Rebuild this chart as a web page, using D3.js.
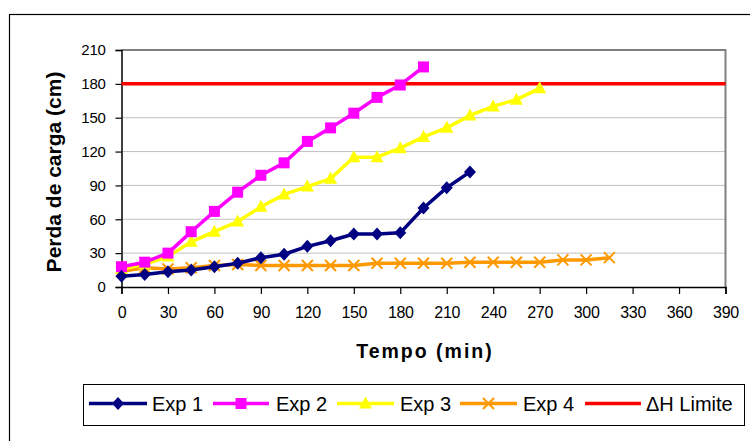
<!DOCTYPE html>
<html><head><meta charset="utf-8">
<script src="https://cdn.jsdelivr.net/npm/d3@7"></script>
<style>body{margin:0;background:#fff;} svg{display:block;font-family:"Liberation Sans",Arial,sans-serif;}</style>
</head><body>
<svg id="c" width="750" height="441"></svg>
<script>
const exp1T = [0,15,30,45,60,75,90,105,120,135,150,165,180,195,210,225];
const exp1V = [9.5,11,13.5,15,18,21,26,29,36,41,47,47,48,70,88,102];
const exp2T = [0,15,30,45,60,75,90,105,120,135,150,165,180,195];
const exp2V = [18,22,30,49,67,84,99,110,129,141,154,168,179,195];
const exp3T = [0,15,30,45,60,75,90,105,120,135,150,165,180,195,210,225,240,255,270];
const exp3V = [16,20,27,40,49,58,71,82,89,96,115,115,123,133,141,152,160,166,176];
const exp4T = [0,15,30,45,60,75,90,105,120,135,150,165,180,195,210,225,240,255,270,285,300,315];
const exp4V = [14,17,16,17,19,20,19,19,19,19,19,21,21,21,21,22,22,22,22,24,24,26];
const limitV = 180;
const xTicks = d3.range(0, 391, 30);
const yTicks = d3.range(0, 211, 30);
const seriesNames = ["Exp 1","Exp 2","Exp 3","Exp 4","\u0394H Limite"];

const svg = d3.select("#c");
const L = 121.5, R = 725.5, T = 50, B = 287;
const x = d3.scaleLinear().domain([0,390]).range([L,R]);
const y = d3.scaleLinear().domain([0,210]).range([B,T]);

// outer border
svg.append("rect").attr("x",9.5).attr("y",14.5).attr("width",760).attr("height",440)
  .attr("fill","none").attr("stroke","#000").attr("stroke-width",1.2);

// gridlines
svg.append("g").selectAll("line").data(yTicks.filter(d=>d>0)).join("line")
  .attr("x1",L).attr("x2",R).attr("y1",d=>y(d)).attr("y2",d=>y(d))
  .attr("stroke","#c0c0c0").attr("stroke-width",1);

// plot border (top/right gray)
svg.append("path").attr("d",`M${L},${T}H${R}V${B}`).attr("fill","none")
  .attr("stroke","#808080").attr("stroke-width",2);

// axes
const yAxis = svg.append("g").attr("transform",`translate(${L},0)`)
  .call(d3.axisLeft(y).tickValues(yTicks).tickSize(6).tickPadding(10));
const xAxis = svg.append("g").attr("transform",`translate(0,${B})`)
  .call(d3.axisBottom(x).tickValues(xTicks).tickSize(7).tickPadding(13));
[yAxis,xAxis].forEach(a=>{
  a.select(".domain").attr("stroke","#000").attr("stroke-width",1.5);
  a.selectAll(".tick line").attr("stroke","#000").attr("stroke-width",1.2);
  a.selectAll(".tick text").attr("fill","#000")
   .attr("font-family","Liberation Sans, Arial, sans-serif").attr("letter-spacing","-0.3px");
});
yAxis.selectAll(".tick text").attr("font-size",15);
xAxis.selectAll(".tick text").attr("font-size",16);

// titles
svg.append("text").attr("transform","translate(61,172) rotate(-90)").attr("text-anchor","middle")
  .attr("font-size",21).attr("font-weight","bold").text("Perda de carga (cm)");
svg.append("text").attr("x",425).attr("y",358).attr("text-anchor","middle")
  .attr("font-size",19.5).attr("font-weight","bold").attr("letter-spacing","2px").text("Tempo (min)");

const plot = svg.append("g");
const line = d3.line().x(d=>x(d[0])).y(d=>y(d[1]));

// limit line
plot.append("line").attr("x1",L).attr("x2",R).attr("y1",y(limitV)).attr("y2",y(limitV))
  .attr("stroke","#ff0000").attr("stroke-width",3.5);

function drawMarker(g, type, color, cx, cy){
  if(type==="x"){
    const s=5.5;
    g.append("path").attr("d",`M${cx-s},${cy-s}L${cx+s},${cy+s}M${cx-s},${cy+s}L${cx+s},${cy-s}`)
      .attr("stroke",color).attr("stroke-width",2).attr("fill","none");
  } else if(type==="diamond"){
    g.append("path").attr("d",`M${cx},${cy-6.5}L${cx+6},${cy}L${cx},${cy+6.5}L${cx-6},${cy}Z`).attr("fill",color);
  } else if(type==="square"){
    g.append("rect").attr("x",cx-5.5).attr("y",cy-5.5).attr("width",11).attr("height",11).attr("fill",color);
  } else if(type==="triangle"){
    g.append("path").attr("d",`M${cx},${cy-7}L${cx+6.5},${cy+5}L${cx-6.5},${cy+5}Z`).attr("fill",color);
  }
}
const series = [
  {T:exp4T,V:exp4V,color:"#ff9900",m:"x"},
  {T:exp3T,V:exp3V,color:"#ffff00",m:"triangle"},
  {T:exp2T,V:exp2V,color:"#ff00ff",m:"square"},
  {T:exp1T,V:exp1V,color:"#000080",m:"diamond"},
];
series.forEach(s=>{
  const pts = s.T.map((t,i)=>[t,s.V[i]]);
  plot.append("path").attr("d",line(pts)).attr("fill","none").attr("stroke",s.color)
    .attr("stroke-width",3.5).attr("stroke-linejoin","round");
  const mg = plot.append("g");
  pts.forEach(p=>drawMarker(mg,s.m,s.color,x(p[0]),y(p[1])));
});

// legend
const lg = svg.append("g");
lg.append("rect").attr("x",83.5).attr("y",384.5).attr("width",661).attr("height",41)
  .attr("fill","#fff").attr("stroke","#000").attr("stroke-width",1);
const legItems = [
  {name:seriesNames[0],color:"#000080",m:"diamond",x1:89,x2:147,tx:152},
  {name:seriesNames[1],color:"#ff00ff",m:"square",x1:213,x2:269,tx:276},
  {name:seriesNames[2],color:"#ffff00",m:"triangle",x1:337,x2:394,tx:400},
  {name:seriesNames[3],color:"#ff9900",m:"x",x1:460,x2:517,tx:523},
  {name:seriesNames[4],color:"#ff0000",m:null,x1:585,x2:641,tx:646},
];
const ly = 403.5;
legItems.forEach(it=>{
  lg.append("line").attr("x1",it.x1).attr("x2",it.x2).attr("y1",ly).attr("y2",ly)
    .attr("stroke",it.color).attr("stroke-width",3.5);
  if(it.m) drawMarker(lg,it.m,it.color,(it.x1+it.x2)/2,ly);
  lg.append("text").attr("x",it.tx).attr("y",410.5).attr("font-size",20).attr("fill","#000").text(it.name);
});
</script>
</body></html>
